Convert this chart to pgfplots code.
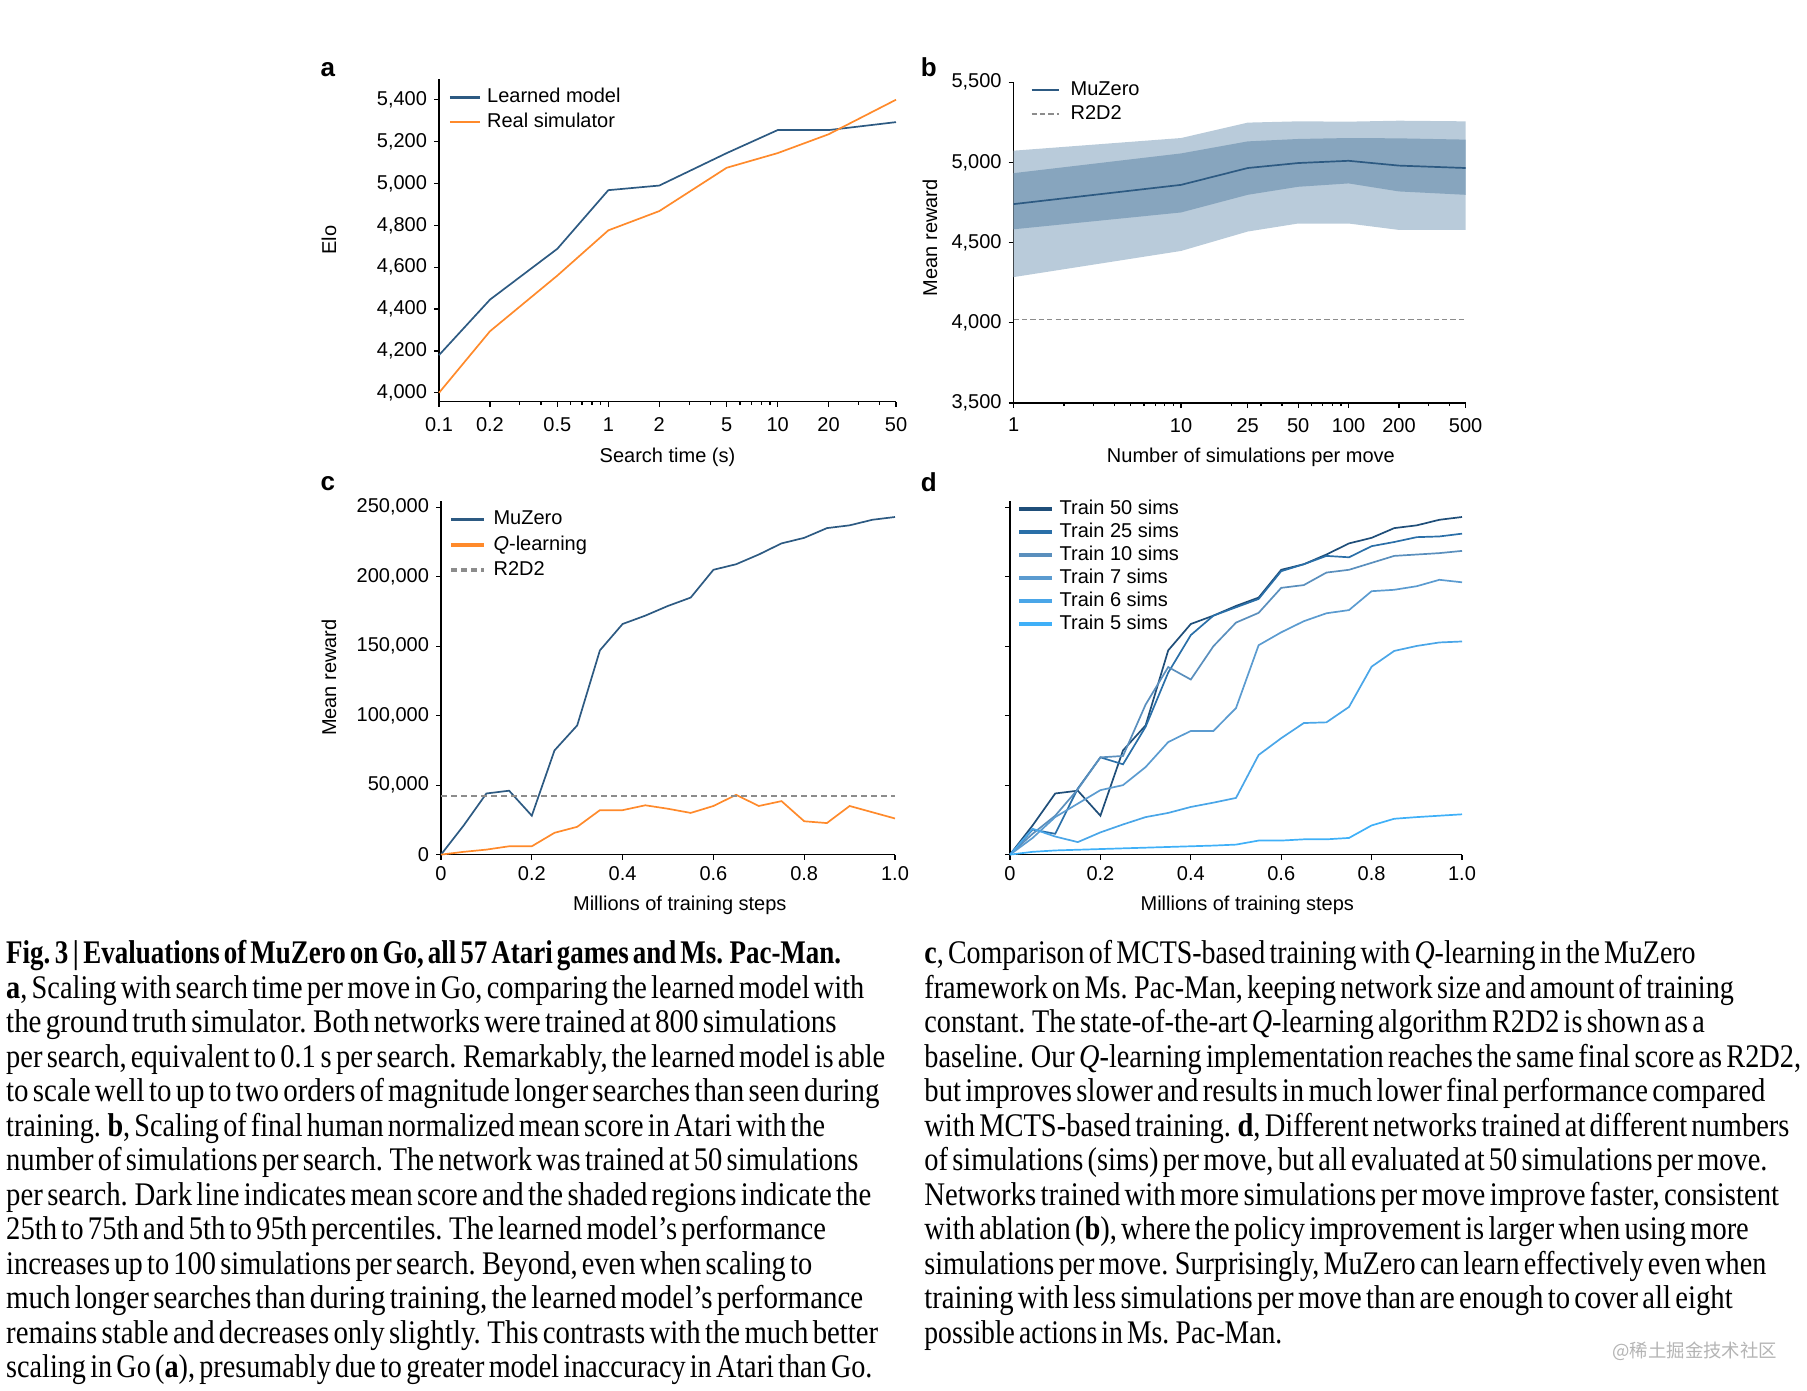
\documentclass[border=0pt]{standalone}
\usepackage{pgfplots}
\pgfplotsset{compat=1.18}
\usepackage{graphicx}
\usepackage{fontspec}
\setmainfont{Liberation Sans}
\newfontfamily\capfont[WordSpace=0.6]{Liberation Serif}
\newfontfamily\cjk{Noto Sans CJK SC}

\definecolor{mzblue}{HTML}{2D5A82}
\definecolor{simorange}{HTML}{FF8A2B}
\definecolor{r2grey}{HTML}{8C8C8C}
\definecolor{bandlight}{HTML}{B9CBDA}
\definecolor{banddark}{HTML}{87A5BE}
\definecolor{s50}{HTML}{1F4E79}
\definecolor{s25}{HTML}{2A6FA8}
\definecolor{s10}{HTML}{5A8FBD}
\definecolor{s7}{HTML}{5B9BD0}
\definecolor{s6}{HTML}{4AA6E8}
\definecolor{s5}{HTML}{3FB0F8}
\definecolor{wmgrey}{HTML}{B4B4B4}

\newcommand\chartfont{\fontsize{10}{12}\selectfont}

\pgfplotsset{
  panel/.style={
    scale only axis,
    anchor=south west,
    axis x line=bottom, axis y line=left,
    axis line style={black, line width=0.6pt, -},
    tick align=outside,
    major tick length=2.5pt, minor tick length=1.5pt,
    every tick/.style={black, line width=0.6pt},
    tick label style={font=\chartfont},
    label style={font=\chartfont},
    scaled ticks=false,
    legend cell align=left,
    clip=false,
  },
  leg/.style n args={3}{
    legend style={draw=none, fill=none, inner sep=0pt,
      at={(axis description cs:#1,#2)}, anchor=north west,
      font=\chartfont,
      nodes={inner sep=0pt, text height=7.2pt, text depth=2pt},
      /tikz/every odd column/.style={column sep=#3}},
  },
}

% one caption line: x, baseline y, target width, text
\newcommand\capline[4]{%
  \node[anchor=base west, inner sep=0pt] at (#1pt,-#2pt)
    {\resizebox{#3pt}{\height}{\capfont\fontsize{16.5}{17}\selectfont #4}};}

\begin{document}
\begin{tikzpicture}
\path[use as bounding box] (0,0) rectangle (903.5pt,-695pt);

% ---------------- a ----------------
\begin{axis}[panel, at={(219.5pt,-200.9pt)}, width=228.5pt, height=161.5pt,
  xmode=log, xmin=0.1, xmax=50, ymin=3957, ymax=5500,
  xtick={0.1,0.2,0.5,1,2,5,10,20,50},
  xticklabels={0.1,0.2,0.5,1,2,5,10,20,50},
  minor xtick={0.3,0.4,0.6,0.7,0.8,0.9,3,4,6,7,8,9,30,40},
  xticklabel style={yshift=-2pt},
  ytick={4000,4200,4400,4600,4800,5000,5200,5400},
  yticklabels={{4,000},{4,200},{4,400},{4,600},{4,800},{5,000},{5,200},{5,400}},
  xlabel={Search time (s)}, ylabel={Elo},
  xlabel style={at={(axis description cs:0.5,-0.172)}, anchor=center},
  ylabel style={at={(axis description cs:-0.241,0.5)}, anchor=center},
  leg={0.02}{0.971}{3pt},
  legend style={row sep=3pt},
  legend image code/.code={\draw[#1, line width=1.3pt] (0pt,0pt) -- (15pt,0pt);},
]
\addplot[mzblue, line width=0.85pt] coordinates {
  (0.1,4180) (0.2,4445) (0.5,4688) (1,4968) (2,4990) (5,5145) (10,5255) (20,5255) (50,5293)};
\addlegendentry{Learned model}
\addplot[simorange, line width=0.85pt] coordinates {
  (0.1,4000) (0.2,4294) (0.5,4560) (1,4776) (2,4868) (5,5075) (10,5145) (20,5235) (50,5400)};
\addlegendentry{Real simulator}
\end{axis}

% ---------------- b ----------------
\begin{axis}[panel, at={(506.8pt,-201.5pt)}, width=226pt, height=160.4pt,
  xmode=log, xmin=1, xmax=500, ymin=3500, ymax=5500,
  xtick={1,10,25,50,100,200,500},
  xticklabels={1,10,25,50,100,200,500},
  minor xtick={2,3,4,5,6,7,8,9,20,30,40,60,70,80,90,300,400},
  xticklabel style={yshift=-1.5pt},
  ytick={3500,4000,4500,5000,5500},
  yticklabels={{3,500},{4,000},{4,500},{5,000},{5,500}},
  xlabel={Number of simulations per move}, ylabel={Mean reward},
  xlabel style={at={(axis description cs:0.525,-0.170)}, anchor=center},
  ylabel style={at={(axis description cs:-0.185,0.515)}, anchor=center},
  leg={0.036}{1.006}{5pt},
  legend style={row sep=2.9pt},
  legend image code/.code={\draw[#1, line width=1.3pt] (0pt,0pt) -- (13.9pt,0pt);},
]
% 5th to 95th percentile band: upper edge, then lower edge reversed
\addplot[fill=bandlight, draw=none, forget plot] coordinates {
  (1,5073) (10,5152) (25,5248) (50,5256) (100,5254) (200,5260) (500,5256)
  (500,4579) (200,4579) (100,4619) (50,4619) (25,4569) (10,4448) (1,4285)} -- cycle;
% 25th to 75th percentile band
\addplot[fill=banddark, draw=none, forget plot] coordinates {
  (1,4933) (10,5056) (25,5131) (50,5146) (100,5152) (200,5150) (500,5142)
  (500,4798) (200,4819) (100,4869) (50,4848) (25,4798) (10,4688) (1,4583)} -- cycle;
\addplot[mzblue, line width=0.85pt] coordinates {
  (1,4740) (10,4860) (25,4965) (50,4996) (100,5010) (200,4980) (500,4965)};
\addlegendentry{MuZero}
\addplot[r2grey, line width=0.8pt, dash pattern=on 2.6pt off 1.6pt] coordinates {
  (1,4021) (500,4021)};
\addlegendentry{R2D2}
\end{axis}

% ---------------- c ----------------
\begin{axis}[panel, at={(220.5pt,-427.3pt)}, width=227pt, height=177pt,
  xmin=0, xmax=1, ymin=0, ymax=254800,
  xtick={0,0.2,0.4,0.6,0.8,1},
  xticklabels={0,0.2,0.4,0.6,0.8,1.0},
  ytick={0,50000,100000,150000,200000,250000},
  yticklabels={0,{50,000},{100,000},{150,000},{200,000},{250,000}},
  xlabel={Millions of training steps}, ylabel={Mean reward},
  xlabel style={at={(axis description cs:0.526,-0.144)}, anchor=center},
  ylabel style={at={(axis description cs:-0.247,0.5)}, anchor=center},
  leg={0.018}{0.974}{4pt},
  legend style={row sep=3.5pt},
  legend image code/.code={\draw[#1, line width=1.8pt] (0pt,0pt) -- (16.2pt,0pt);},
]
\addplot[mzblue, line width=0.85pt] coordinates {
  (0,0) (0.05,21000) (0.1,44000) (0.15,46000) (0.2,28000) (0.25,75000)
  (0.3,93000) (0.35,147000) (0.4,166000) (0.45,172000) (0.5,179000)
  (0.55,185000) (0.6,205000) (0.65,209000) (0.7,216000) (0.75,224000)
  (0.8,228000) (0.85,235000) (0.9,237000) (0.95,241000) (1,243000)};
\addlegendentry{MuZero}
\addplot[simorange, line width=0.85pt] coordinates {
  (0,0) (0.05,2000) (0.1,3600) (0.15,6000) (0.2,6000) (0.25,15700)
  (0.3,20000) (0.35,32000) (0.4,32000) (0.45,35500) (0.5,33000)
  (0.55,30000) (0.6,35000) (0.65,43000) (0.7,35000) (0.75,38500)
  (0.8,24000) (0.85,22700) (0.9,35000) (0.95,30500) (1,26000)};
\addlegendentry{\textit{Q}-learning}
\addplot[r2grey, line width=0.9pt, dash pattern=on 3pt off 2pt] coordinates {
  (0,42000) (1,42000)};
\addlegendentry{R2D2}
\end{axis}

% ---------------- d ----------------
\begin{axis}[panel, at={(505pt,-427.3pt)}, width=226pt, height=177pt,
  xmin=0, xmax=1, ymin=0, ymax=254800,
  xtick={0,0.2,0.4,0.6,0.8,1},
  xticklabels={0,0.2,0.4,0.6,0.8,1.0},
  ytick={0,50000,100000,150000,200000,250000},
  yticklabels={},
  xlabel={Millions of training steps},
  xlabel style={at={(axis description cs:0.525,-0.144)}, anchor=center},
  leg={0.016}{1.003}{3pt},
  legend style={row sep=2.3pt},
  legend image code/.code={\draw[#1, line width=1.8pt] (0pt,0pt) -- (16.2pt,0pt);},
]
\addplot[s50, line width=0.85pt] coordinates {
  (0,0) (0.05,21000) (0.1,44000) (0.15,46000) (0.2,28000) (0.25,75000)
  (0.3,93000) (0.35,147000) (0.4,166000) (0.45,172000) (0.5,179000)
  (0.55,185000) (0.6,205000) (0.65,209000) (0.7,216000) (0.75,224000)
  (0.8,228000) (0.85,235000) (0.9,237000) (0.95,241000) (1,243000)};
\addlegendentry{Train 50 sims}
\addplot[s25, line width=0.85pt] coordinates {
  (0,0) (0.05,18000) (0.1,15000) (0.15,47600) (0.2,70000) (0.25,65000)
  (0.3,92000) (0.35,131000) (0.4,158000) (0.45,172000) (0.5,178000)
  (0.55,184000) (0.6,204000) (0.65,209000) (0.7,215000) (0.75,214000)
  (0.8,222000) (0.85,225000) (0.9,228500) (0.95,229000) (1,231000)};
\addlegendentry{Train 25 sims}
\addplot[s10, line width=0.85pt] coordinates {
  (0,0) (0.05,15000) (0.1,28000) (0.15,47000) (0.2,70000) (0.25,71000)
  (0.3,108000) (0.35,135000) (0.4,126000) (0.45,150000) (0.5,167000)
  (0.55,174000) (0.6,192000) (0.65,194000) (0.7,203000) (0.75,205000)
  (0.8,210000) (0.85,215000) (0.9,216000) (0.95,217000) (1,218600)};
\addlegendentry{Train 10 sims}
\addplot[s7, line width=0.85pt] coordinates {
  (0,0) (0.05,12000) (0.1,27000) (0.15,36700) (0.2,46400) (0.25,50000)
  (0.3,63000) (0.35,81000) (0.4,89000) (0.45,89000) (0.5,105500)
  (0.55,150700) (0.6,160000) (0.65,168000) (0.7,173700) (0.75,176000)
  (0.8,189600) (0.85,190600) (0.9,193200) (0.95,197800) (1,196000)};
\addlegendentry{Train 7 sims}
\addplot[s6, line width=0.85pt] coordinates {
  (0,0) (0.05,18600) (0.1,13000) (0.15,9000) (0.2,16000) (0.25,21700)
  (0.3,27000) (0.35,30000) (0.4,34300) (0.45,37400) (0.5,40800)
  (0.55,71700) (0.6,83800) (0.65,94700) (0.7,95200) (0.75,106300)
  (0.8,135300) (0.85,146600) (0.9,150200) (0.95,152700) (1,153400)};
\addlegendentry{Train 6 sims}
\addplot[s5, line width=0.85pt] coordinates {
  (0,0) (0.05,2000) (0.1,3000) (0.15,3500) (0.2,4000) (0.25,4500)
  (0.3,5000) (0.35,5500) (0.4,6000) (0.45,6500) (0.5,7200)
  (0.55,10100) (0.6,10100) (0.65,11000) (0.7,11000) (0.75,12000)
  (0.8,21000) (0.85,25800) (0.9,27000) (0.95,28000) (1,29000)};
\addlegendentry{Train 5 sims}
\end{axis}

% panel letters
\begin{scope}[every node/.style={font=\bfseries\fontsize{13}{13}\selectfont, inner sep=0pt}]
\node at (163.9pt,-34.7pt) {a};
\node at (464.4pt,-33.7pt) {b};
\node at (163.9pt,-242.0pt) {c};
\node at (464.4pt,-241.0pt) {d};
\end{scope}

% caption, left column
\capline{2.9}{481.7}{417.5}{{\bfseries Fig.\,3\,|\,Evaluations of MuZero on Go, all 57 Atari games and Ms. Pac-Man.}}
\capline{2.9}{499.0}{429.0}{{\bfseries a}, Scaling with search time per move in Go, comparing the learned model with}
\capline{2.9}{516.2}{415.1}{the ground truth simulator. Both networks were trained at 800 simulations}
\capline{2.9}{533.5}{439.5}{per search, equivalent to 0.1\,s per search. Remarkably, the learned model is able}
\capline{2.9}{550.8}{436.6}{to scale well to up to two orders of magnitude longer searches than seen during}
\capline{2.9}{568.1}{409.4}{training. {\bfseries b}, Scaling of final human normalized mean score in Atari with the}
\capline{2.9}{585.3}{426.1}{number of simulations per search. The network was trained at 50 simulations}
\capline{2.9}{602.6}{432.5}{per search. Dark line indicates mean score and the shaded regions indicate the}
\capline{2.9}{619.9}{409.9}{25th to 75th and 5th to 95th percentiles. The learned model’s performance}
\capline{2.9}{637.1}{403.0}{increases up to 100 simulations per search. Beyond, even when scaling to}
\capline{2.9}{654.4}{428.5}{much longer searches than during training, the learned model’s performance}
\capline{2.9}{671.7}{436.0}{remains stable and decreases only slightly. This contrasts with the much better}
\capline{2.9}{688.9}{433.1}{scaling in Go ({\bfseries a}), presumably due to greater model inaccuracy in Atari than Go.}

% caption, right column
\capline{462.0}{481.7}{385.6}{{\bfseries c}, Comparison of MCTS-based training with \textit{Q}-learning in the MuZero}
\capline{462.0}{499.0}{404.7}{framework on Ms. Pac-Man, keeping network size and amount of training}
\capline{462.0}{516.2}{390.2}{constant. The state-of-the-art \textit{Q}-learning algorithm R2D2 is shown as a}
\capline{462.0}{533.5}{438.3}{baseline. Our \textit{Q}-learning implementation reaches the same final score as R2D2,}
\capline{462.0}{550.8}{420.4}{but improves slower and results in much lower final performance compared}
\capline{462.0}{568.1}{432.5}{with MCTS-based training. {\bfseries d}, Different networks trained at different numbers}
\capline{462.0}{585.3}{421.5}{of simulations (sims) per move, but all evaluated at 50 simulations per move.}
\capline{462.0}{602.6}{427.3}{Networks trained with more simulations per move improve faster, consistent}
\capline{462.0}{619.9}{412.2}{with ablation ({\bfseries b}), where the policy improvement is larger when using more}
\capline{462.0}{637.1}{420.9}{simulations per move. Surprisingly, MuZero can learn effectively even when}
\capline{462.0}{654.4}{404.1}{training with less simulations per move than are enough to cover all eight}
\capline{462.0}{671.7}{178.9}{possible actions in Ms. Pac-Man.}

% watermark
\node[anchor=west, inner sep=0pt, text=wmgrey] at (806pt,-675.7pt)
  {\cjk\fontsize{9.2}{10}\selectfont @稀土掘金技术社区};
\end{tikzpicture}
\end{document}
